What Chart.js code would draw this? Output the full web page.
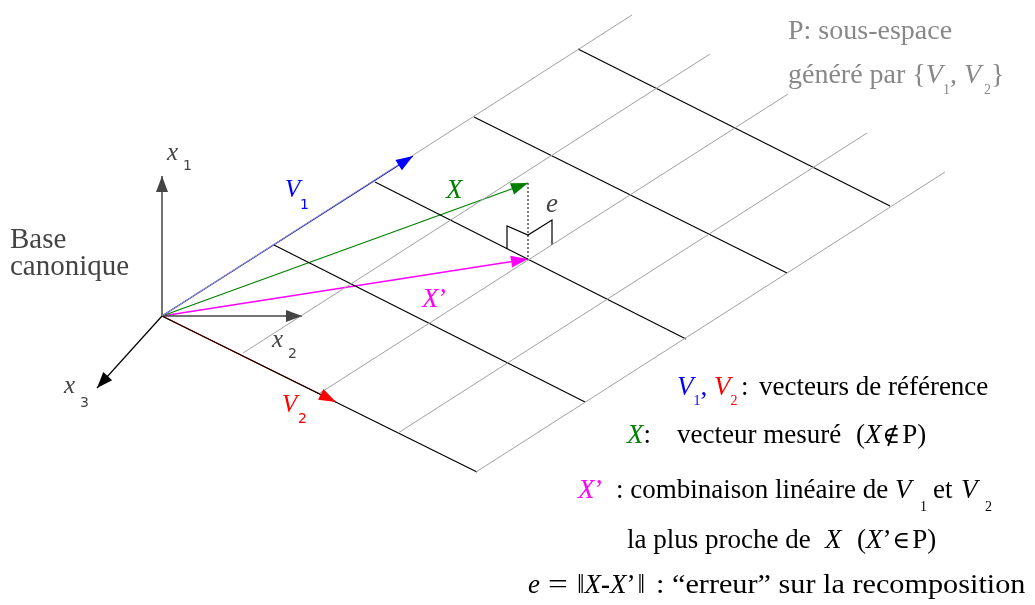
<!DOCTYPE html>
<html lang="fr">
<head>
<meta charset="utf-8">
<title>Sous-espace P et recomposition</title>
<script src="https://cdn.jsdelivr.net/npm/chart.js@4.4.1/dist/chart.umd.min.js"></script>
<style>
  html, body { margin: 0; padding: 0; background: #fff; }
  #schema { display: block; }
</style>
</head>
<body>
<canvas id="schema" width="1035" height="605"></canvas>
<script>
// points (repère de la figure, y vers le bas)
const origine = [162, 316];
const axeX1 = [origine, [162, 176]];
const axeX2 = [origine, [302, 316]];
const axeX3 = [origine, [97, 388]];

// quadrillage du plan P
const lignesNoires = [
    [[162, 316], [477, 472]],
    [[274, 245], [585, 402]],
    [[375, 182], [686, 339]],
    [[474, 117], [787, 273]],
    [[578, 49], [890, 206]]
];
const lignesGrises = [
    [[162, 316], [632, 15]],
    [[243, 353], [710, 54]],
    [[320, 393], [788, 94]],
    [[398, 433], [867, 133]],
    [[476, 472], [945, 172]]
];

// vecteurs
const vecV1 = [origine, [413, 156]];
const vecV2 = [origine, [336, 402]];
const vecX = [origine, [528, 183]];
const vecXp = [origine, [528, 259]];
const erreurE = [[528, 183], [528, 259]];
const angleDroit = [[507, 249], [507, 226], [528, 235], [552, 220], [552, 245]];

const SERIF = '"Liberation Serif", "Times New Roman", serif';
const SANS = '"DejaVu Sans", sans-serif';
const MATH = '"DejaVu Serif", serif';
const GRIS = '#444';

const f = (taille, style) => (style ? style + ' ' : '') + taille + 'px ' + SERIF;
const fs = (taille) => taille + 'px ' + SANS;
const fm = (taille) => taille + 'px ' + MATH;

// textes : position de la ligne de base, puis morceaux
const textes = [
    { x: 10, y: 248, runs: [{ t: 'Base', f: f(29), c: GRIS }] },
    { x: 10, y: 275, runs: [{ t: 'canonique', f: f(29), c: GRIS }] },
    { x: 167, y: 160, runs: [{ t: 'x', f: f(25, 'italic'), c: GRIS }, { t: '1', f: fs(14), c: GRIS, x: 183, dy: 10 }] },
    { x: 272, y: 347, runs: [{ t: 'x', f: f(25, 'italic'), c: GRIS }, { t: '2', f: fs(14), c: GRIS, x: 288, dy: 11 }] },
    { x: 64, y: 393, runs: [{ t: 'x', f: f(25, 'italic'), c: GRIS }, { t: '3', f: fs(14), c: GRIS, x: 80, dy: 14 }] },
    { x: 285, y: 197, runs: [{ t: 'V', f: f(25, 'italic'), c: '#0000ff' }, { t: '1', f: fs(14), c: '#0000ff', x: 300, dy: 12 }] },
    { x: 282, y: 412, runs: [{ t: 'V', f: f(25, 'italic'), c: '#ff0000' }, { t: '2', f: fs(14), c: '#ff0000', x: 298, dy: 11 }] },
    { x: 446, y: 198, runs: [{ t: 'X', f: f(27, 'italic'), c: '#008000' }] },
    { x: 422, y: 307, runs: [{ t: 'X', f: f(27, 'italic'), c: '#ff00ff' }, { t: '\u2019', f: f(27), c: '#ff00ff' }] },
    { x: 546, y: 212, runs: [{ t: 'e', f: f(27, 'italic'), c: GRIS }] },
    { x: 788, y: 39, runs: [{ t: 'P: sous-espace', f: f(28), c: '#888' }] },
    { x: 788, y: 83, runs: [
        { t: 'généré par {', f: f(28), c: '#888' },
        { t: 'V', f: f(28, 'italic'), c: '#888' },
        { t: '1', f: f(14), c: '#888', dy: 11 },
        { t: ', ', f: f(28), c: '#888' },
        { t: 'V', f: f(28, 'italic'), c: '#888' },
        { t: '2', f: f(14), c: '#888', dy: 11, dx: 3 },
        { t: '}', f: f(28), c: '#888' }
    ] },
    { x: 677, y: 395, runs: [
        { t: 'V', f: f(27, 'italic'), c: '#0000ff' },
        { t: '1', f: f(14), c: '#0000ff', dy: 10 },
        { t: ', ', f: f(27), c: '#0000ff' },
        { t: 'V', f: f(27, 'italic'), c: '#ff0000' },
        { t: '2', f: f(14), c: '#ff0000', dy: 10 },
        { t: ':', f: f(27), c: '#000', x: 741 },
        { t: 'vecteurs de référence', f: f(27), c: '#000', x: 759 }
    ] },
    { x: 627, y: 443, runs: [
        { t: 'X', f: f(27, 'italic'), c: '#008000' },
        { t: ':', f: f(27), c: '#000' },
        { t: 'vecteur mesuré', f: f(27), c: '#000', x: 677 },
        { t: '(', f: f(27), c: '#000', x: 856 },
        { t: 'X', f: f(27, 'italic'), c: '#000' },
        { t: '\u2209', f: fm(24), c: '#000', dx: 1 },
        { t: 'P)', f: f(27), c: '#000', dx: 2 }
    ] },
    { x: 578, y: 498, runs: [
        { t: 'X', f: f(27, 'italic'), c: '#ff00ff' },
        { t: '\u2019', f: f(27), c: '#ff00ff' },
        { t: ': combinaison linéaire de', f: f(27), c: '#000', x: 616 },
        { t: 'V', f: f(27, 'italic'), c: '#000', x: 895 },
        { t: '1', f: f(14), c: '#000', x: 920, dy: 13 },
        { t: 'et', f: f(27), c: '#000', x: 933 },
        { t: 'V', f: f(27, 'italic'), c: '#000', x: 961 },
        { t: '2', f: f(14), c: '#000', x: 985, dy: 13 }
    ] },
    { x: 627, y: 548, runs: [
        { t: 'la plus proche de', f: f(27), c: '#000' },
        { t: 'X', f: f(27, 'italic'), c: '#000', x: 825 },
        { t: '(', f: f(27), c: '#000', x: 857 },
        { t: 'X', f: f(27, 'italic'), c: '#000' },
        { t: '\u2019', f: f(27), c: '#000' },
        { t: '\u2208', f: fm(24), c: '#000', dx: 1 },
        { t: 'P)', f: f(27), c: '#000', dx: 2 }
    ] },
    { x: 528, y: 593, runs: [
        { t: 'e', f: f(27, 'italic'), c: '#000' },
        { t: '=', f: f(27), c: '#000', x: 548, sx: 1.3 },
        { t: '\u2016', f: f(27), c: '#000', x: 577 },
        { t: 'X', f: f(27, 'italic'), c: '#000' },
        { t: '-', f: 'bold ' + f(27), c: '#000' },
        { t: 'X', f: f(27, 'italic'), c: '#000' },
        { t: '\u2019', f: f(27), c: '#000' },
        { t: '\u2016', f: f(27), c: '#000', dx: 2 },
        { t: ': \u201Cerreur\u201D sur la recomposition', f: f(27), c: '#000', x: 656, sx: 1.12 }
    ] }
];

const pts = (ligne) => ligne.map(p => ({ x: p[0], y: p[1] }));

const trait = (ligne, couleur, epaisseur, extra) => Object.assign({
    data: pts(ligne),
    showLine: true,
    borderColor: couleur,
    backgroundColor: couleur,
    borderWidth: epaisseur,
    pointRadius: 0,
    pointHoverRadius: 0,
    fill: false,
    tension: 0
}, extra || {});

const datasets = [];
lignesGrises.forEach(l => datasets.push(trait(l, '#a0a0a0', 1)));
lignesNoires.forEach(l => datasets.push(trait(l, '#000', 1.2)));
datasets.push(trait(angleDroit, '#000', 1.2));
datasets.push(trait(erreurE, '#555', 1.5, { borderDash: [2, 2] }));
datasets.push(trait(axeX1, GRIS, 1.5, { fleche: [16, 6] }));
datasets.push(trait(axeX2, GRIS, 1.5, { fleche: [16, 6] }));
datasets.push(trait(axeX3, '#000', 1.2, { fleche: [16, 6] }));
datasets.push(trait(vecV1, '#0000ff', 1.3, { fleche: [17, 6] }));
datasets.push(trait(vecV2, '#ff0000', 1.3, { fleche: [17, 6] }));
datasets.push(trait(vecX, '#008000', 1.3, { fleche: [17, 6] }));
datasets.push(trait(vecXp, '#ff00ff', 1.3, { fleche: [17, 6] }));

const fleches = {
    id: 'fleches',
    afterDatasetsDraw(chart) {
        const c = chart.ctx;
        chart.data.datasets.forEach((ds, i) => {
            if (!ds.fleche) return;
            const p = chart.getDatasetMeta(i).data;
            const a = p[p.length - 2], b = p[p.length - 1];
            const ang = Math.atan2(b.y - a.y, b.x - a.x);
            c.save();
            c.translate(b.x, b.y);
            c.rotate(ang);
            c.beginPath();
            c.moveTo(0, 0);
            c.lineTo(-ds.fleche[0], -ds.fleche[1]);
            c.lineTo(-ds.fleche[0], ds.fleche[1]);
            c.closePath();
            c.fillStyle = ds.borderColor;
            c.fill();
            c.restore();
        });
    }
};

const etiquettes = {
    id: 'etiquettes',
    afterDraw(chart) {
        const c = chart.ctx;
        const sx = chart.scales.x, sy = chart.scales.y;
        c.save();
        c.textBaseline = 'alphabetic';
        textes.forEach(lab => {
            let x = sx.getPixelForValue(lab.x);
            const y = sy.getPixelForValue(lab.y);
            lab.runs.forEach(r => {
                if (r.x !== undefined) x = sx.getPixelForValue(r.x);
                x += r.dx || 0;
                const k = r.sx || 1;
                c.font = r.f;
                c.fillStyle = r.c;
                c.save();
                c.translate(x, y + (r.dy || 0));
                c.scale(k, 1);
                c.fillText(r.t, 0, 0);
                c.restore();
                x += c.measureText(r.t).width * k;
            });
        });
        c.restore();
    }
};

new Chart(document.getElementById('schema'), {
    type: 'scatter',
    data: { datasets: datasets },
    options: {
        responsive: false,
        animation: false,
        layout: { padding: 0 },
        plugins: {
            legend: { display: false },
            tooltip: { enabled: false }
        },
        events: [],
        scales: {
            x: { type: 'linear', min: 0, max: 1035, display: false },
            y: { type: 'linear', min: 0, max: 605, reverse: true, display: false }
        }
    },
    plugins: [fleches, etiquettes]
});
</script>
</body>
</html>
